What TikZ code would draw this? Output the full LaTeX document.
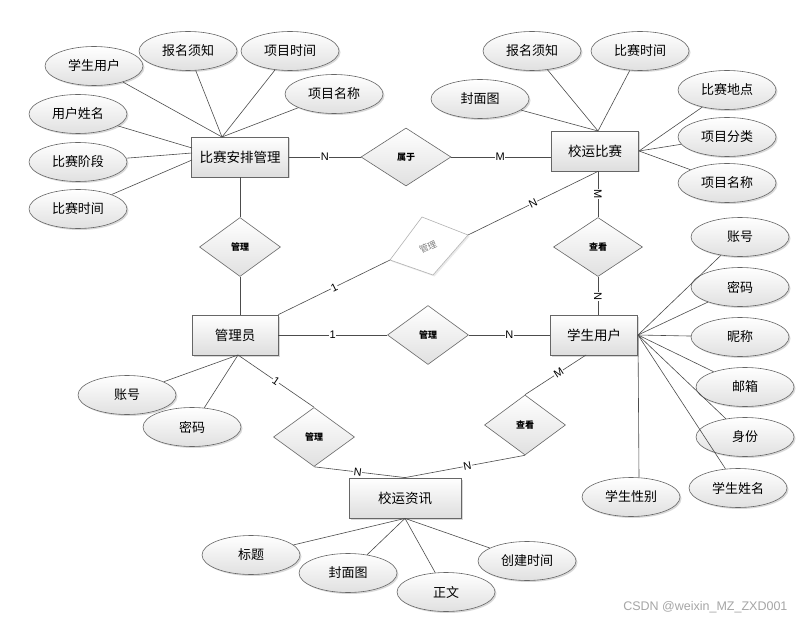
\documentclass[tikz,border=0pt]{standalone}
\usepackage{fontspec}
\newfontfamily\cjk{Noto Sans CJK SC}
\newfontfamily\latn{Liberation Sans}
\usetikzlibrary{shapes.geometric,shadows}
\begin{document}
\begin{tikzpicture}[x=1pt,y=-1pt,
 shd/.style={drop shadow={opacity=0.3,shadow xshift=1.5pt,shadow yshift=-1.5pt}},
 ent/.style={rectangle, draw=black!60, line width=0.8pt, top color=white, bottom color=black!13, shd, minimum height=40pt, inner sep=0pt, font=\cjk\fontsize{13.5}{15}\selectfont},
 attr/.style={ellipse, draw=black!60, line width=0.6pt, top color=white, bottom color=black!12, shd, minimum width=98pt, minimum height=39pt, inner sep=0pt, font=\cjk\fontsize{13}{15}\selectfont},
 rel/.style={diamond, draw=black!60, line width=0.6pt, top color=white, bottom color=black!12, minimum width=81pt, minimum height=59pt, inner sep=0pt, font=\cjk\bfseries\fontsize{9}{10}\selectfont},
 conn/.style={draw=black!70, line width=0.6pt},
 card/.style={fill=white, inner sep=0.5pt, font=\latn\fontsize{11}{11}\selectfont},
]
\fill[white] (0,0) rectangle (801,623);
\useasboundingbox (0,0) rectangle (801,623);

% entities
\node[ent, minimum width=97pt] (arr) at (240,157) {比赛安排管理};
\node[ent, minimum width=87pt] (xs) at (595,151) {校运比赛};
\node[ent, minimum width=86pt] (mgr) at (235,335) {管理员};
\node[ent, minimum width=87pt] (su) at (594,335) {学生用户};
\node[ent, minimum width=112pt] (news) at (405,498) {校运资讯};

% relationships
\node[rel, minimum width=90pt, minimum height=58pt] (sy) at (406,157) {属于};
\node[rel] (gl1) at (240,247) {管理};
\node[rel, minimum width=89pt] (ck1) at (598,247) {查看};
\node[rel] (gl3) at (428,335) {管理};
\node[rel] (gl4) at (314,437) {管理};
\node[rel, minimum height=60pt] (ck2) at (525,425) {查看};

% skewed grey relationship
\coordinate (gT) at (422,217);
\coordinate (gR) at (468,235);
\coordinate (gB) at (433,275);
\coordinate (gL) at (390,260);
\fill[black!20, opacity=0.4] ([shift={(1.5pt,-1.5pt)}]gT) -- ([shift={(1.5pt,-1.5pt)}]gR) -- ([shift={(1.5pt,-1.5pt)}]gB) -- ([shift={(1.5pt,-1.5pt)}]gL) -- cycle;
\draw[draw=black!30, line width=0.6pt, fill=white] (gT) -- (gR) -- (gB) -- (gL) -- cycle;
\node[font=\cjk\fontsize{9}{10}\selectfont, text=black!50, rotate=25, inner sep=0pt] (gl2) at (428,247) {管理};

% attributes of 比赛安排管理
\node[attr] (a1) at (94,66) {学生用户};
\node[attr] (a2) at (188,51) {报名须知};
\node[attr] (a3) at (290,51) {项目时间};
\node[attr] (a4) at (334,94) {项目名称};
\node[attr] (a5) at (78,114) {用户姓名};
\node[attr] (a6) at (78,162) {比赛阶段};
\node[attr] (a7) at (78,209) {比赛时间};

% attributes of 校运比赛
\node[attr] (b1) at (532,51) {报名须知};
\node[attr] (b2) at (640,51) {比赛时间};
\node[attr] (b3) at (480,99) {封面图};
\node[attr] (b4) at (727,90) {比赛地点};
\node[attr] (b5) at (727,137) {项目分类};
\node[attr] (b6) at (727,183) {项目名称};

% attributes of 管理员
\node[attr] (c1) at (127,395) {账号};
\node[attr] (c2) at (192,427) {密码};

% attributes of 学生用户
\node[attr] (d1) at (740,237) {账号};
\node[attr] (d2) at (740,287) {密码};
\node[attr] (d3) at (740,337) {昵称};
\node[attr] (d4) at (745,387) {邮箱};
\node[attr] (d5) at (745,437) {身份};
\node[attr] (d6) at (738,488) {学生姓名};
\node[attr] (d7) at (631,497) {学生性别};

% attributes of 校运资讯
\node[attr] (e1) at (251,555) {标题};
\node[attr] (e2) at (348,573) {封面图};
\node[attr] (e3) at (446,592) {正文};
\node[attr] (e4) at (527,561) {创建时间};

% connection points
\coordinate (pA) at (222,137);
\coordinate (pL1) at (192,148);
\coordinate (pL2) at (192,153);
\coordinate (pL3) at (192,160);
\coordinate (pB) at (598,131);
\coordinate (pE) at (639,151);
\coordinate (pM) at (238,355);
\coordinate (pS) at (638,335);

% attribute lines
\foreach \n in {a1,a2,a3,a4} \draw[conn] (\n) -- (pA);
\draw[conn] (a5) -- (pL1);
\draw[conn] (a6) -- (pL2);
\draw[conn] (a7) -- (pL3);
\foreach \n in {b1,b2,b3} \draw[conn] (\n) -- (pB);
\foreach \n in {b4,b5,b6} \draw[conn] (\n) -- (pE);
\foreach \n in {c1,c2} \draw[conn] (\n) -- (pM);
\foreach \n in {d1,d2,d3,d4,d5,d6} \draw[conn] (\n) -- (pS);
\draw[conn] (pS) -- ([xshift=8pt]d7.north);
\foreach \n in {e1,e2,e3,e4} \draw[conn] (\n) -- (news.south);

% relationship lines
\draw[conn] (arr.east) -- node[card, sloped]{N} (sy.west);
\draw[conn] (sy.east) -- node[card, sloped, pos=0.49]{M} (sy.east -| xs.west);
\draw[conn] (arr.south) -- (gl1.north);
\draw[conn] (gl1.south) -- (gl1.south |- mgr.north);
\draw[conn] (mgr.north east) -- node[card, sloped]{1} (gL);
\draw[conn] (gR) -- node[card, sloped]{N} (xs.south -| ck1.north);
\draw[conn] (xs.south -| ck1.north) -- node[card, sloped]{M} (ck1.north);
\draw[conn] (ck1.south) -- node[card, sloped, pos=0.52]{N} (ck1.south |- su.north);
\draw[conn] (mgr.east) -- node[card, sloped]{1} (gl3.west);
\draw[conn] (gl3.east) -- node[card, sloped]{N} (su.west);
\draw[conn] (pM) -- node[card, sloped]{1} (gl4.north);
\draw[conn] (gl4.south) -- node[card, sloped, pos=0.48]{N} (news.north);
\draw[conn] (ck2.south) -- node[card, sloped, pos=0.48]{N} (news.north);
\coordinate (pSb) at (586,355);
\draw[conn] (pSb) -- node[card, sloped, pos=0.45]{M} (ck2.north);

% watermark
\node[font=\latn\fontsize{12.5}{13}\selectfont, text=black!35, anchor=east] (wm) at (791,607) {CSDN @weixin\_MZ\_ZXD001};
\end{tikzpicture}
\end{document}
